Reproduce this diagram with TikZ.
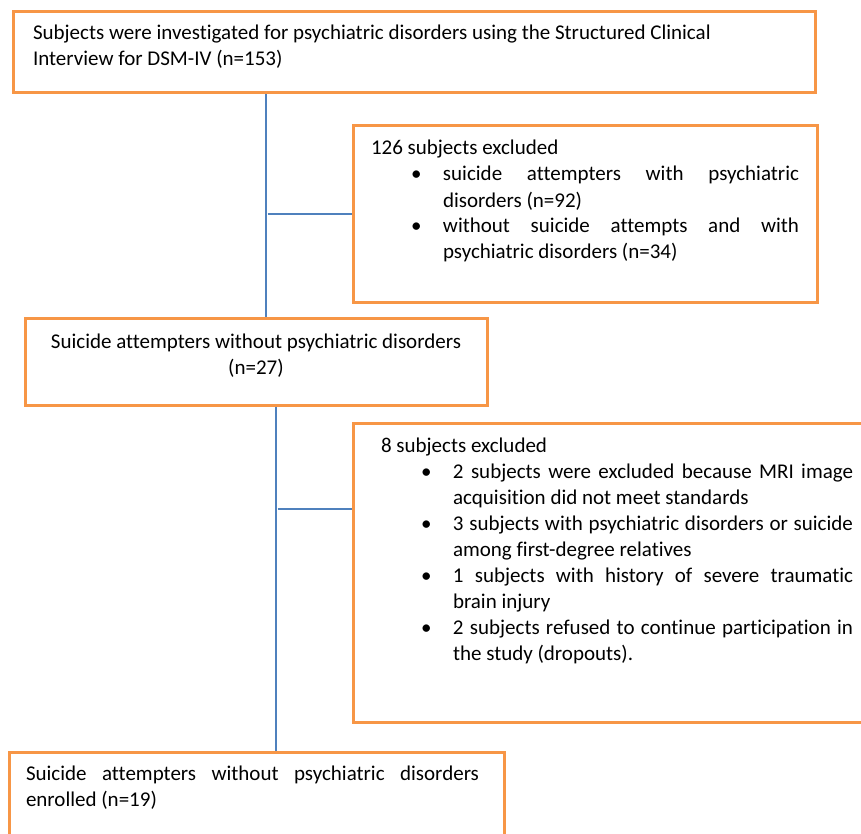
\documentclass[tikz,border=0pt]{standalone}
\usepackage{fontspec}
\setmainfont{Carlito}[Ligatures=NoCommon]
\definecolor{boxorange}{HTML}{F79646}
\definecolor{lineblue}{HTML}{4F81BD}
\newcommand{\boxfont}{\fontsize{21}{26}\selectfont\hyphenpenalty=10000 \tolerance=10000 \hbadness=10000 }
\newcommand{\fl}[1]{\rule{0pt}{#1pt}}
\newcommand{\bitem}[1]{\par{\leftskip=72pt\noindent\llap{\makebox[32pt][l]{\textbullet}}#1\par}}
\begin{document}
\begin{tikzpicture}[x=1pt,y=-1pt]
\tikzstyle{every node}=[font=\boxfont]
\tikzstyle{box}=[draw=boxorange,line width=3pt,inner ysep=0pt,outer sep=0pt,anchor=north west]
\tikzstyle{link}=[draw=lineblue,line width=1.5pt,shorten <=1.5pt,shorten >=1.5pt]
\useasboundingbox (0,0) rectangle (861,834);
\node[box,inner xsep=20pt] (screen) at (13,12) {\parbox[c][81pt][t]{762pt}{\raggedright\fl{28}Subjects were investigated for psychiatric disorders using the Structured Clinical\\ Interview for DSM-IV (n=153)}};
\node[box,inner xsep=18pt] (ex1) at (353,126) {\parbox[c][176pt][t]{428pt}{\fl{29}126 subjects excluded
\bitem{suicide attempters with psychiatric\linebreak disorders (n=92)}
\bitem{without suicide attempts and with\linebreak psychiatric disorders (n=34)}}};
\node[box,inner xsep=12pt] (att) at (25,318) {\parbox[c][87pt][t]{438pt}{\centering\fl{30}Suicide attempters without psychiatric disorders\hspace*{16pt}\\ (n=27)}};
\node[box,inner xsep=28pt] (ex2) at (353,423) {\parbox[c][299pt][t]{472pt}{\fl{29}8 subjects excluded
\bitem{2 subjects were excluded because MRI image\linebreak acquisition did not meet standards}
\bitem{3 subjects with psychiatric disorders or suicide\linebreak among first-degree relatives}
\bitem{1 subjects with history of severe traumatic\linebreak brain injury}
\bitem{2 subjects refused to continue participation in\linebreak the study (dropouts).}}};
\node[box,inner xsep=17pt] (enr) at (9,752) {\parbox[c][90pt][t]{461pt}{\rightskip=8pt\fl{28}Suicide attempters without psychiatric disorders\linebreak enrolled (n=19)}};
% connectors
\coordinate (j1) at (266,214);
\coordinate (j2) at (276,509);
\draw[link] (j1 |- screen.south) -- (j1 |- att.north);
\draw[link] (j1) -- (j1 -| ex1.west);
\draw[link] (j2 |- att.south) -- (j2 |- enr.north);
\draw[link] (j2) -- (j2 -| ex2.west);
\end{tikzpicture}
\end{document}
